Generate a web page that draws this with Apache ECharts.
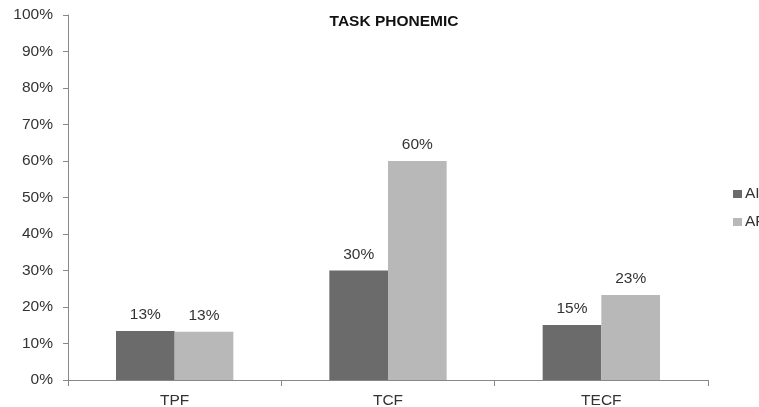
<!DOCTYPE html>
<html><head><meta charset="utf-8">
<script src="https://cdn.jsdelivr.net/npm/echarts@6/dist/echarts.min.js"></script>
<style>html,body{margin:0;padding:0;background:#fff}#c{width:759px;height:407px}</style>
</head><body><div id="c"></div>
<script>
const categories = ['TPF', 'TCF', 'TECF'];
const seriesNames = ['AI', 'AF'];
const valuesAI = [13.4, 30, 15.1];
const valuesAF = [13.2, 60, 23.3];
const yTicks = [0,10,20,30,40,50,60,70,80,90,100];

const chart = echarts.init(document.getElementById('c'));
const font = 'Liberation Sans, Arial, sans-serif';
const fs = 15.5;
const tc = '#333';
const lbl = {show:true, position:'top', distance:8, fontFamily:font, fontSize:fs, color:tc,
  formatter: p => Math.round(p.value) + '%'};
chart.setOption({
  animation:false,
  title:{text:'TASK PHONEMIC', left:389, textAlign:'center', top:9,
    textStyle:{fontFamily:font, fontSize:15.5, fontWeight:'bold', color:'#111'}},
  legend:{orient:'vertical', left:728, top:181, itemWidth:9, itemHeight:8, itemGap:12,
    icon:'rect', data:seriesNames,
    textStyle:{fontFamily:font, fontSize:fs, color:tc, padding:[0,0,0,-2]}},
  grid:{left:68, right:51, top:15, bottom:27, outerBoundsMode:'none', containLabel:false},
  xAxis:{type:'category', data:categories,
    axisLine:{lineStyle:{color:'#888'}},
    axisTick:{show:true, length:6, lineStyle:{color:'#888'}},
    axisLabel:{fontFamily:font, fontSize:fs, color:tc, margin:13}},
  yAxis:{type:'value', min:0, max:100, interval:10,
    axisLine:{show:true, lineStyle:{color:'#888'}},
    axisTick:{show:true, inside:false, length:5, lineStyle:{color:'#888'}},
    splitLine:{show:false},
    axisLabel:{fontFamily:font, fontSize:fs, color:tc, margin:15,
      formatter: v => yTicks.includes(v) ? v + '%' : ''}},
  series:[
    {name:seriesNames[0], type:'bar', data:valuesAI, barGap:'0%', barCategoryGap:'45%',
      itemStyle:{color:'#6b6b6b'}, label:lbl},
    {name:seriesNames[1], type:'bar', data:valuesAF,
      itemStyle:{color:'#b8b8b8'}, label:lbl}
  ]
});
</script></body></html>
